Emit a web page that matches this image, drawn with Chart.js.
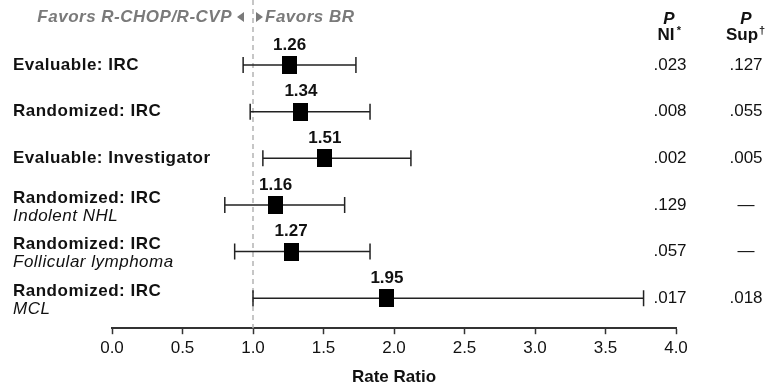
<!DOCTYPE html>
<html>
<head>
<meta charset="utf-8">
<script src="https://cdn.jsdelivr.net/npm/chart.js@4"></script>
<style>
  html, body { margin: 0; padding: 0; background: #fff; }
  #wrap { width: 776px; height: 382px; position: relative; }
</style>
</head>
<body>
<div id="wrap"><canvas id="forest"></canvas></div>
<script>
// Dados
const rowLabels = ['Evaluable: IRC', 'Randomized: IRC', 'Evaluable: Investigator', 'Randomized: IRC', 'Randomized: IRC', 'Randomized: IRC']
const subLabels = ['', '', '', 'Indolent NHL', 'Follicular lymphoma', 'MCL']
const rateRatio = [1.26, 1.34, 1.51, 1.16, 1.27, 1.95]
const ciLow = [0.93, 0.98, 1.07, 0.80, 0.87, 1.00]
const ciHigh = [1.73, 1.83, 2.12, 1.65, 1.83, 3.77]
const pNI = ['.023', '.008', '.002', '.129', '.057', '.017']
const pSup = ['.127', '.055', '.005', '—', '—', '.018']
const xTicks = [0, 0.5, 1, 1.5, 2, 2.5, 3, 3.5, 4]

const FONT = '"Liberation Sans", Arial, Helvetica, sans-serif'

// marcador retangular (um pouco mais alto que largo)
const box = document.createElement('canvas')
box.width = 15
box.height = 18
const bctx = box.getContext('2d')
bctx.fillStyle = '#000'
bctx.fillRect(0, 0, 15, 18)

const forestPlugin = {
  id: 'forest',
  beforeDatasetsDraw(chart) {
    const ctx = chart.ctx
    const x = chart.scales.x
    const y = chart.scales.y
    const area = chart.chartArea

    // linha tracejada em 1.0
    ctx.save()
    ctx.strokeStyle = '#b4b4b4'
    ctx.lineWidth = 1.5
    ctx.setLineDash([5, 4])
    const x1 = x.getPixelForValue(1)
    ctx.beginPath()
    ctx.moveTo(x1, 0)
    ctx.lineTo(x1, area.bottom)
    ctx.stroke()
    ctx.restore()

    // intervalos de confiança
    ctx.save()
    ctx.strokeStyle = '#222'
    ctx.lineWidth = 1.5
    rateRatio.forEach((v, i) => {
      const yy = y.getPixelForValue(i)
      const xl = x.getPixelForValue(ciLow[i])
      const xh = x.getPixelForValue(ciHigh[i])
      ctx.beginPath()
      ctx.moveTo(xl, yy)
      ctx.lineTo(xh, yy)
      ctx.moveTo(xl, yy - 8)
      ctx.lineTo(xl, yy + 8)
      ctx.moveTo(xh, yy - 8)
      ctx.lineTo(xh, yy + 8)
      ctx.stroke()
    })
    ctx.restore()
  },
  afterDatasetsDraw(chart) {
    const ctx = chart.ctx
    const x = chart.scales.x
    const y = chart.scales.y
    const x1 = x.getPixelForValue(1)

    ctx.save()
    ctx.textBaseline = 'middle'

    // cabeçalho
    ctx.fillStyle = '#7a7a7a'
    ctx.font = 'italic bold 17px ' + FONT
    ctx.letterSpacing = '0.5px'
    ctx.textAlign = 'right'
    ctx.fillText('Favors R-CHOP/R-CVP', x1 - 21, 17)
    ctx.textAlign = 'left'
    ctx.fillText('Favors BR', x1 + 12, 17)
    ctx.letterSpacing = '0px'
    // setas
    ctx.beginPath()
    ctx.moveTo(x1 - 9, 12)
    ctx.lineTo(x1 - 9, 22)
    ctx.lineTo(x1 - 16, 17)
    ctx.closePath()
    ctx.moveTo(x1 + 3, 12)
    ctx.lineTo(x1 + 3, 22)
    ctx.lineTo(x1 + 10, 17)
    ctx.closePath()
    ctx.fill()

    // colunas de P
    ctx.fillStyle = '#111'
    ctx.textAlign = 'center'
    ctx.font = 'italic bold 17px ' + FONT
    ctx.fillText('P', 669, 19)
    ctx.fillText('P', 746, 19)
    ctx.font = 'bold 17px ' + FONT
    ctx.fillText('NI', 666, 35)
    ctx.fillText('Sup', 742, 35)
    ctx.font = 'bold 11px ' + FONT
    ctx.fillText('*', 679, 31)
    ctx.fillText('†', 762, 31)

    rateRatio.forEach((v, i) => {
      const yy = y.getPixelForValue(i)
      const xx = x.getPixelForValue(v)

      // valor acima do marcador
      ctx.fillStyle = '#111'
      ctx.textAlign = 'center'
      ctx.font = 'bold 17px ' + FONT
      ctx.fillText(v.toFixed(2), xx, yy - 20)

      // rótulos à esquerda
      ctx.textAlign = 'left'
      ctx.letterSpacing = '0.5px'
      if (subLabels[i]) {
        ctx.font = 'bold 17px ' + FONT
        ctx.fillText(rowLabels[i], 13, yy - 7)
        ctx.font = 'italic 17px ' + FONT
        ctx.fillText(subLabels[i], 13, yy + 11)
      } else {
        ctx.font = 'bold 17px ' + FONT
        ctx.fillText(rowLabels[i], 13, yy)
      }
      ctx.letterSpacing = '0px'

      // valores de P
      ctx.textAlign = 'center'
      ctx.font = '17px ' + FONT
      ctx.fillText(pNI[i], 670, yy)
      ctx.fillText(pSup[i], 746, yy)
    })
    ctx.restore()
  }
}

new Chart(document.getElementById('forest'), {
  type: 'scatter',
  data: {
    datasets: [{
      label: 'Rate Ratio',
      data: rateRatio.map((v, i) => ({ x: v, y: i })),
      pointStyle: box,
      pointRadius: 9,
      pointHoverRadius: 9
    }]
  },
  options: {
    responsive: true,
    maintainAspectRatio: false,
    animation: false,
    events: [],
    layout: {
      autoPadding: false,
      padding: { left: 112, right: 100, top: 0, bottom: -6 }
    },
    plugins: {
      legend: { display: false },
      tooltip: { enabled: false }
    },
    scales: {
      x: {
        type: 'linear',
        min: 0,
        max: 4,
        afterBuildTicks: (scale) => {
          scale.ticks = xTicks.map(v => ({ value: v }))
        },
        ticks: {
          color: '#111',
          font: { family: FONT, size: 17 },
          padding: 4,
          maxRotation: 0,
          callback: (v) => Number(v).toFixed(1)
        },
        grid: {
          drawOnChartArea: false,
          drawTicks: true,
          tickLength: 6,
          tickWidth: 1.5,
          tickColor: '#333'
        },
        border: { display: true, color: '#333', width: 2 },
        title: {
          display: true,
          text: 'Rate Ratio',
          color: '#111',
          font: { family: FONT, size: 17, weight: 'bold' },
          padding: { top: 5, bottom: 0 }
        }
      },
      y: {
        type: 'linear',
        display: false,
        reverse: true,
        min: -1.395,
        max: 5.645
      }
    }
  },
  plugins: [forestPlugin]
})
</script>
</body>
</html>
